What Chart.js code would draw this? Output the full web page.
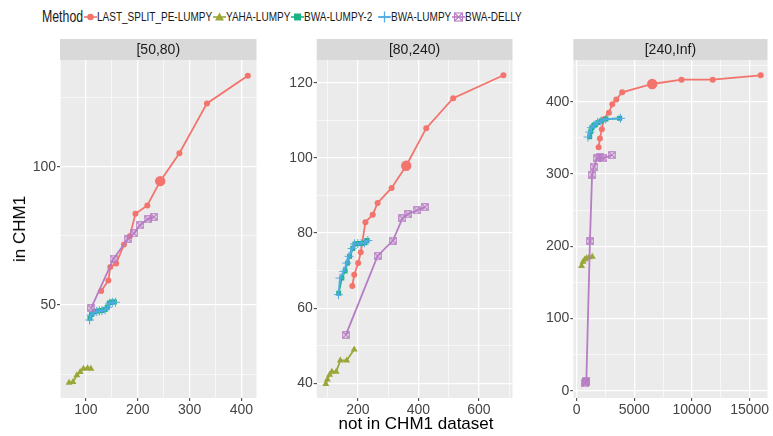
<!DOCTYPE html>
<html>
<head>
<meta charset="utf-8">
<script src="https://cdn.jsdelivr.net/npm/chart.js@4/dist/chart.umd.min.js"></script>
<style>
  body { margin: 0; width: 773px; height: 436px; background: #fff; position: relative; overflow: hidden;
         font-family: "Liberation Sans", Arial, sans-serif; }
  canvas { position: absolute; }
  .lg { position: absolute; top: 8px; height: 18px; line-height: 18px; color: #1a1a1a; white-space: nowrap;
        transform: scaleX(0.77); transform-origin: left center; }
  .lg-title { font-size: 16px; }
  .lg-text { font-size: 13px; }
  .lg-key { position: absolute; top: 10px; width: 13px; height: 14px; }
  .axis-title { position: absolute; font-size: 17px; color: #000; white-space: nowrap; }
</style>
</head>
<body>
<div class="lg lg-title" style="left:42px">Method</div>
<div id="legend"></div>
<canvas id="c1" width="262" height="383" style="left:0px;top:39px"></canvas>
<canvas id="c2" width="248" height="383" style="left:270px;top:39px"></canvas>
<canvas id="c3" width="248" height="383" style="left:525px;top:39px"></canvas>
<div class="axis-title" style="left:416px;top:414px;transform:translateX(-50%)">not in CHM1 dataset</div>
<div class="axis-title" style="left:20px;top:229px;transform:translate(-50%,-50%) rotate(-90deg)">in CHM1</div>
<script>
// Methods and facets
const methods = ['LAST_SPLIT_PE-LUMPY', 'YAHA-LUMPY', 'BWA-LUMPY-2', 'BWA-LUMPY', 'BWA-DELLY'];
const bins = ['[50,80)', '[80,240)', '[240,Inf)'];

// [x = not in CHM1 dataset, y = in CHM1] per facet
// facet [50,80)
const lastSplit50 = [[129.5,55.1],[143.3,58.9],[147,63.8],[158.3,65],[173.4,71.9],[184.6,74.9],[195.5,83],[218.4,86],[243.3,94.8],[280.3,104.9],[333.4,122.9],[412.2,132.9]];
const yaha50 = [[67.5,21.9],[75,22.2],[82.5,24.6],[88.9,25.8],[95.1,27],[103.2,27.2],[109.6,27]];
const bwa2_50 = [[107.7,45.2],[110.7,46.6],[115.7,47.6],[120.8,47.8],[126.4,47.9],[131.3,48],[136.4,48.4],[141.4,49.3],[145.2,50.8],[150.1,51.1],[155,51.1]];
const bwa50 = [[107,44.6],[110,46.4],[115,47.4],[121,47.7],[126,47.9],[131,48],[137,48.3],[142,49.2],[146,50.7],[151,51],[157,51]];
const delly50 = [[110.1,48.9],[153.3,66.8],[181.4,74],[192.7,75.9],[204,78.8],[219,81],[231,81.9]];
// facet [80,240)
const lastSplit80 = [[181.7,65.9],[188.1,68.9],[201,72],[209.6,74.9],[225,82.9],[249.2,84.9],[265.3,88],[311.6,92],[359.8,97.9],[426,107.9],[515,115.9],[681,122]];
const yaha80 = [[93.9,39.8],[99.4,41],[106.8,42.3],[114.1,43.1],[128.3,43.1],[142.1,46.1],[163,46.1],[187.8,49]];
const bwa2_80 = [[136.7,64],[147,68],[157.6,69.9],[165.6,72],[172.7,73.8],[183,75.9],[190.4,77.1],[201,77.2],[212,77.2],[222.5,77.4],[230.5,78]];
const bwa80 = [[136,63.6],[141,68],[153,69.8],[163,72],[171,73.8],[181,75.9],[189,77.1],[200,77.2],[211,77.2],[222,77.4],[233,78]];
const delly80 = [[160.4,52.9],[265.3,73.9],[315.8,78],[347.3,83.9],[365,85],[393.9,86],[421,86.9]];
// facet [240,Inf)
const lastSplit240 = [[1907,336.9],[2017,349],[2186,362],[2356,375.6],[2797,384.8],[3093,396.4],[3441,403],[3949,413],[6551,424.5],[9093,430.5],[11805,430.5],[15958,436.5]];
const yaha240 = [[424,172.6],[559,178.5],[703,181.6],[873,183.4],[1085,184.6],[1356,185.5]];
const bwa2_240 = [[1127,351.6],[1212,358.5],[1322,364],[1551,367.8],[1831,371],[2119,373.3],[2542,376],[3729,377]];
const bwa240 = [[983,351],[1150,358],[1290,364],[1520,367.5],[1810,371],[2100,373],[2520,375.8],[3800,377]];
const delly240 = [[740,10],[790,11.5],[840,13],[1153,206.8],[1339,299],[1508,310],[1746,321.4],[2034,322.8],[2314,321.7],[3051,326.2]];

const facetData = [
  [lastSplit50, yaha50, bwa2_50, bwa50, delly50],
  [lastSplit80, yaha80, bwa2_80, bwa80, delly80],
  [lastSplit240, yaha240, bwa2_240, bwa240, delly240]
];

// axis limits and breaks per facet
const xLimits = [[50, 429], [64, 711], [-290, 16550]];
const yLimits = [[16.4, 138.6], [36.1, 126.05], [-10.1, 457.7]];
const xBreaks = [100, 200, 5000];
const yBreaks = [50, 20, 100];
// index of the larger LAST_SPLIT_PE-LUMPY point in each facet
const bigPoint = [8, 8, 8];

const colors = ['#F2746C', '#9AA638', '#19B386', '#52AAE6', '#B77CC4'];

function squareX(color, s) {
  const c = document.createElement('canvas');
  c.width = c.height = s;
  const g = c.getContext('2d');
  g.strokeStyle = color;
  g.lineWidth = 1.1;
  g.strokeRect(0.75, 0.75, s - 1.5, s - 1.5);
  g.beginPath();
  g.moveTo(1, 1); g.lineTo(s - 1, s - 1);
  g.moveTo(s - 1, 1); g.lineTo(1, s - 1);
  g.stroke();
  return c;
}

const styles = ['circle', 'triangle', 'rect', 'cross', squareX(colors[4], 8)];
const radii = [3, 4, 3.5, 4.5, 4];

// legend (key centres follow the reference layout)
const legendKeyX = [90, 219, 297, 384, 458];
const keySvg = [
  c => `<circle cx="6.5" cy="7" r="3.3" fill="${c}"/>`,
  c => `<polygon points="6.5,2.5 11,10.5 2,10.5" fill="${c}"/>`,
  c => `<rect x="3" y="3.5" width="7" height="7" fill="${c}"/>`,
  c => `<path d="M6.5 1.5V12.5M1 7H12" stroke="${c}" stroke-width="1.3"/>`,
  c => `<rect x="2.5" y="3" width="8" height="8" fill="none" stroke="${c}" stroke-width="1.1"/><path d="M2.5 3L10.5 11M10.5 3L2.5 11" stroke="${c}" stroke-width="1.1"/>`
];
const legend = document.getElementById('legend');
methods.forEach((m, i) => {
  const k = legendKeyX[i];
  legend.insertAdjacentHTML('beforeend',
    `<svg class="lg-key" style="left:${k - 6.5}px" viewBox="0 0 13 14"><line x1="0" y1="7" x2="13" y2="7" stroke="${colors[i]}" stroke-width="1.6"/>${keySvg[i](colors[i])}</svg>` +
    `<div class="lg lg-text" style="left:${k + 7}px">${m}</div>`);
});

const panelBg = {
  id: 'panelBg',
  beforeDraw(chart, args, opts) {
    const { ctx, chartArea: a } = chart;
    ctx.save();
    ctx.fillStyle = '#EBEBEB';
    ctx.fillRect(a.left, a.top, a.right - a.left, a.bottom - a.top);
    ctx.fillStyle = '#D9D9D9';
    ctx.fillRect(a.left, a.top - 21, a.right - a.left, 21);
    ctx.fillStyle = '#1a1a1a';
    ctx.font = '14px "Liberation Sans", Arial, sans-serif';
    ctx.textAlign = 'center';
    ctx.textBaseline = 'middle';
    ctx.fillText(opts.text, (a.left + a.right) / 2, a.top - 10);
    ctx.restore();
  }
};

function axis(lim, major, horizontal, size) {
  const half = major / 2;
  const isMajor = v => Math.abs(v % major) < 1e-9;
  return {
    type: 'linear',
    min: lim[0],
    max: lim[1],
    afterBuildTicks: s => {
      const t = [];
      for (let v = Math.ceil(lim[0] / half) * half; v <= lim[1]; v += half) t.push({ value: v });
      s.ticks = t;
    },
    ticks: {
      autoSkip: false,
      maxRotation: 0,
      padding: 1,
      color: '#444',
      font: { family: '"Liberation Sans", Arial, sans-serif', size: 14 },
      callback: v => isMajor(v) ? String(v) : ''
    },
    grid: {
      color: '#fff',
      lineWidth: c => (c.tick && isMajor(c.tick.value)) ? 1.3 : 0.6,
      tickLength: 3,
      tickWidth: 1,
      tickColor: c => (c.tick && isMajor(c.tick.value)) ? '#333' : 'rgba(0,0,0,0)'
    },
    border: { display: false },
    afterFit: s => {
      if (horizontal) { s.height = size; s.paddingLeft = 0; s.paddingRight = 0; }
      else { s.width = size; s.paddingTop = 0; s.paddingBottom = 0; }
    }
  };
}

const canvases = ['c1', 'c2', 'c3'];
const yAxisWidth = [60, 46.7, 48.3];
const rightPad = [0, 0, 2];

canvases.forEach((id, p) => {
  const datasets = methods.map((m, i) => ({
    label: m,
    data: facetData[p][i].map(([x, y]) => ({ x, y })),
    showLine: true,
    borderColor: colors[i],
    backgroundColor: colors[i],
    borderWidth: 1.8,
    pointBorderWidth: i === 3 ? 1 : 0,
    pointStyle: styles[i],
    pointRadius: i === 0 ? (c => c.dataIndex === bigPoint[p] ? 5.2 : 3) : radii[i],
    order: 5 - i,
    clip: 4
  }));
  new Chart(document.getElementById(id), {
    type: 'scatter',
    data: { datasets },
    options: {
      responsive: false,
      animation: false,
      events: [],
      layout: { padding: { top: 21, right: rightPad[p], left: 0, bottom: 0 } },
      plugins: { legend: { display: false }, tooltip: { enabled: false }, panelBg: { text: bins[p] } },
      scales: {
        x: axis(xLimits[p], xBreaks[p], true, 24),
        y: axis(yLimits[p], yBreaks[p], false, yAxisWidth[p])
      }
    },
    plugins: [panelBg]
  });
});
</script>
</body>
</html>
